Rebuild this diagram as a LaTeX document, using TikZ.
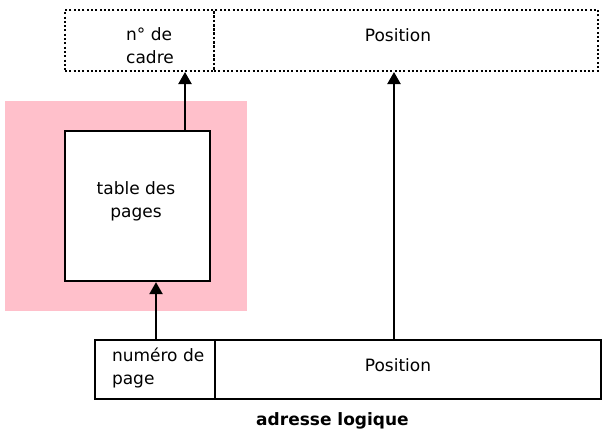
\documentclass[tikz,border=0pt]{standalone}
\usepackage{fontspec}
\setmainfont{DejaVu Sans}
\usetikzlibrary{arrows.meta}
\definecolor{rose}{RGB}{255,192,203}

\begin{document}
\begin{tikzpicture}[x=1pt,y=-1pt,>/.tip={Triangle[length=12pt,width=13pt]},
	every node/.style={font=\fontsize{17}{23}\selectfont},
	boite/.style={draw,line width=2.2pt,inner sep=0pt,rectangle},
	pointille/.style={boite,line width=2pt,dash pattern=on 2pt off 2.3pt}]
\useasboundingbox (0,0) rectangle (603,432);
\fill[rose] (5,101) rectangle (247,311);
\node[pointille,minimum width=149pt,minimum height=61pt] (cadre) at (139.5,40.5) {};
\node[pointille,minimum width=384pt,minimum height=61pt] (deplac) at (406,40.5) {};
\node[align=left] (tcadre) at (150,46) {n° de\\cadre};
\node (tdeplac) at (398,35) {Position};
\node[boite,fill=white,minimum width=145pt,minimum height=150pt] (table) at (137.5,206) {};
\node[align=center] (ttable) at (136,201) {table des\\pages};
\node[boite,minimum width=120pt,minimum height=59pt] (page) at (155,369.5) {};
\node[boite,minimum width=386pt,minimum height=59pt] (pos) at (408,369.5) {};
\node[anchor=west,align=left] (tpage) at (108.5,368) {numéro de\\page};
\node (tpos) at (398,365) {Position};
\node[font=\fontsize{17}{23}\selectfont\bfseries] (titre) at (332.5,421) {adresse logique};
\draw[->,line width=2.2pt] (table.north -| 185,0) -- (cadre.south -| 185,0);
\draw[->,line width=2.2pt] (page.north -| 156,0) -- (table.south -| 156,0);
\draw[->,line width=2.2pt] (pos.north -| 394,0) -- (deplac.south -| 394,0);
\end{tikzpicture}
\end{document}
